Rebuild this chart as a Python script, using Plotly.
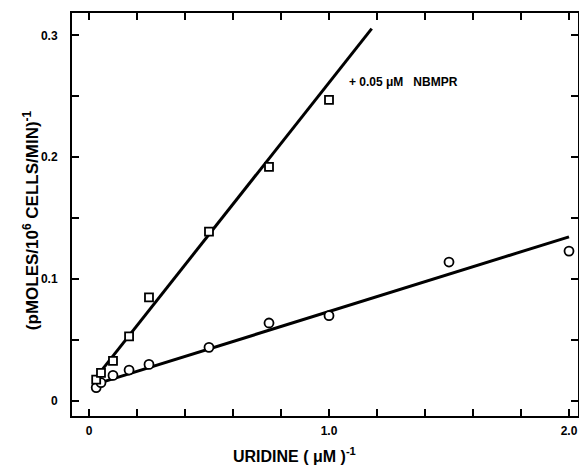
import plotly.graph_objects as go

# Control (circles)
ctrl_x = [0.03, 0.05, 0.10, 0.167, 0.25, 0.50, 0.75, 1.00, 1.50, 2.00]
ctrl_y = [0.011, 0.015, 0.021, 0.0254, 0.030, 0.044, 0.064, 0.070, 0.114, 0.123]
# + 0.05 uM NBMPR (squares)
nbmpr_x = [0.03, 0.05, 0.10, 0.167, 0.25, 0.50, 0.75, 1.00]
nbmpr_y = [0.0175, 0.023, 0.033, 0.053, 0.085, 0.139, 0.192, 0.247]

# fitted lines
ctrl_fit_x = [0.032, 2.0]
ctrl_fit_y = [0.014, 0.1347]
nbmpr_fit_x = [0.032, 1.178]
nbmpr_fit_y = [0.020, 0.3055]

x_tick_vals = [0, 1.0, 2.0]
x_tick_text = ["0", "1.0", "2.0"]
x_minor_vals = [0.2, 0.4, 0.6, 0.8, 1.2, 1.4, 1.6, 1.8]
y_tick_vals = [0, 0.1, 0.2, 0.3]
y_tick_text = ["0", "0.1", "0.2", "0.3"]
y_minor_vals = [0.05, 0.15, 0.25]

label_text = "+ 0.05 \u03bcM&nbsp;&nbsp; NBMPR"
label_pos = (1.075, 0.262)
x_title = "URIDINE ( \u03bcM )<sup>-1</sup>"
y_title = "(pMOLES/10<sup>6</sup> CELLS/MIN)<sup>-1</sup>"

FONT = "Liberation Sans"

fig = go.Figure()
fig.add_trace(go.Scatter(x=ctrl_fit_x, y=ctrl_fit_y, mode="lines",
                         line=dict(color="black", width=3), showlegend=False))
fig.add_trace(go.Scatter(x=nbmpr_fit_x, y=nbmpr_fit_y, mode="lines",
                         line=dict(color="black", width=3), showlegend=False))
fig.add_trace(go.Scatter(x=ctrl_x, y=ctrl_y, mode="markers",
                         marker=dict(symbol="circle", size=9, color="white",
                                     line=dict(color="black", width=1.8)),
                         showlegend=False))
fig.add_trace(go.Scatter(x=nbmpr_x, y=nbmpr_y, mode="markers",
                         marker=dict(symbol="square", size=8, color="white",
                                     line=dict(color="black", width=1.8)),
                         showlegend=False))

fig.add_annotation(x=label_pos[0], y=label_pos[1], text=label_text, showarrow=False,
                   xanchor="left", yanchor="middle",
                   font=dict(family=FONT, size=12, color="black", weight="bold"))

# axis titles (placed as in the reference, x title is left of centre)
fig.add_annotation(xref="paper", yref="paper", x=0.4407, y=-0.0968, text=x_title,
                   showarrow=False, xanchor="center", yanchor="middle",
                   font=dict(family=FONT, size=16, color="black", weight="bold"))
fig.add_annotation(xref="paper", yref="paper", x=-0.081, y=0.486, text=y_title,
                   showarrow=False, xanchor="center", yanchor="middle", textangle=-90,
                   font=dict(family=FONT, size=17, color="black", weight="bold"))

axis_common = dict(showgrid=False, zeroline=False, showline=True, linecolor="black",
                   linewidth=2, ticks="inside", ticklen=7, tickwidth=1.5,
                   tickcolor="black", mirror="allticks", automargin=False,
                   tickfont=dict(family=FONT, size=12, color="black", weight="bold"))

fig.update_xaxes(range=[-0.0708, 2.0375], tickmode="array", tickvals=x_tick_vals,
                 ticktext=x_tick_text, ticklabelstandoff=3,
                 minor=dict(tickmode="array", tickvals=x_minor_vals, ticks="inside",
                            ticklen=7, tickwidth=1.5, tickcolor="black", showgrid=False),
                 **axis_common)
fig.update_yaxes(range=[-0.0123, 0.3183], tickmode="array", tickvals=y_tick_vals,
                 ticktext=y_tick_text, ticklabelstandoff=10,
                 minor=dict(tickmode="array", tickvals=y_minor_vals, ticks="inside",
                            ticklen=7, tickwidth=1.5, tickcolor="black", showgrid=False),
                 **axis_common)

fig.update_layout(width=579, height=466, margin=dict(l=72, r=1, t=13, b=50),
                  plot_bgcolor="white", paper_bgcolor="white")

fig.write_html("out.html", config={"displayModeBar": False},
               post_script="document.body.style.margin='0';document.body.style.padding='0';")
